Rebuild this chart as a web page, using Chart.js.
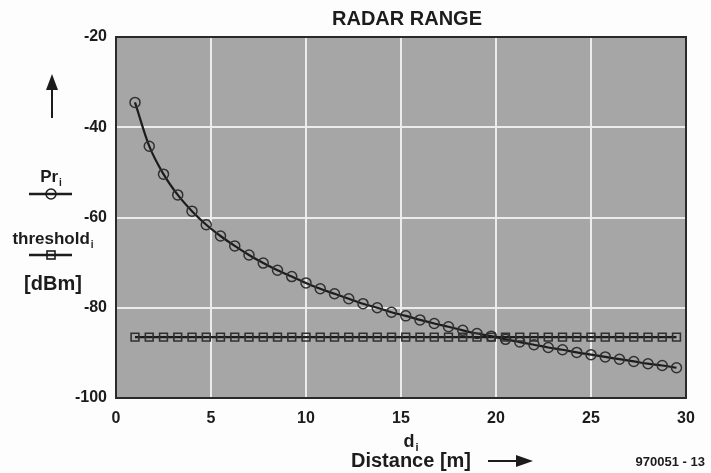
<!DOCTYPE html>
<html lang="en">
<head>
    <meta charset="UTF-8">
    <title>Radar Range</title>
    <script src="https://cdn.jsdelivr.net/npm/chart.js"></script>
    <style>
        html, body { margin: 0; padding: 0; background: #fdfdfd; }
        #chartContainer { width: 711px; height: 473px; }
    </style>
</head>
<body>
    <div id="chartContainer">
        <canvas id="radarChart" width="711" height="473"></canvas>
    </div>

    <script>
        // values
        const distance = [1, 1.75, 2.5, 3.25, 4, 4.75, 5.5, 6.25, 7, 7.75, 8.5, 9.25, 10,
            10.75, 11.5, 12.25, 13, 13.75, 14.5, 15.25, 16, 16.75, 17.5, 18.25, 19, 19.75,
            20.5, 21.25, 22, 22.75, 23.5, 24.25, 25, 25.75, 26.5, 27.25, 28, 28.75, 29.5];
        const prDbm = [-34.5, -44.2, -50.4, -55.0, -58.6, -61.6, -64.1, -66.3, -68.3, -70.1,
            -71.7, -73.1, -74.5, -75.8, -76.9, -78.0, -79.1, -80.0, -81.0, -81.8, -82.7,
            -83.5, -84.2, -85.0, -85.7, -86.3, -87.0, -87.6, -88.2, -88.8, -89.3, -89.9,
            -90.4, -90.9, -91.4, -91.9, -92.4, -92.8, -93.3];
        const thresholdDbm = [-86.5, -86.5, -86.5, -86.5, -86.5, -86.5, -86.5, -86.5, -86.5,
            -86.5, -86.5, -86.5, -86.5, -86.5, -86.5, -86.5, -86.5, -86.5, -86.5, -86.5,
            -86.5, -86.5, -86.5, -86.5, -86.5, -86.5, -86.5, -86.5, -86.5, -86.5, -86.5,
            -86.5, -86.5, -86.5, -86.5, -86.5, -86.5, -86.5, -86.5];
        const xTicks = [0, 5, 10, 15, 20, 25, 30];
        const yTicks = [-100, -80, -60, -40, -20];

        const FONT = '"Liberation Sans", Arial, sans-serif';
        const INK = '#1c1c1c';

        function toPoints(xs, ys) {
            return xs.map((x, i) => ({ x: x, y: ys[i] }));
        }

        // text with a small lowered "i"
        function subText(ctx, main, sub, cx, y, size) {
            ctx.font = 'bold ' + size + 'px ' + FONT;
            const w1 = ctx.measureText(main).width;
            ctx.font = 'bold ' + Math.round(size * 0.6) + 'px ' + FONT;
            const w2 = ctx.measureText(sub).width;
            const x0 = cx - (w1 + w2 + 1) / 2;
            ctx.textAlign = 'left';
            ctx.font = 'bold ' + size + 'px ' + FONT;
            ctx.fillText(main, x0, y);
            ctx.font = 'bold ' + Math.round(size * 0.6) + 'px ' + FONT;
            ctx.fillText(sub, x0 + w1 + 1, y + size * 0.22);
        }

        const decor = {
            id: 'decor',
            beforeDraw(chart) {
                const { ctx, chartArea: a } = chart;
                ctx.save();
                ctx.fillStyle = '#fdfdfd';
                ctx.fillRect(0, 0, chart.width, chart.height);
                ctx.fillStyle = '#a6a6a6';
                ctx.fillRect(a.left, a.top, a.right - a.left, a.bottom - a.top);
                ctx.restore();
            },
            afterDraw(chart) {
                const { ctx, chartArea: a } = chart;
                ctx.save();
                ctx.strokeStyle = '#2a2a2a';
                ctx.lineWidth = 2;
                ctx.strokeRect(a.left, a.top, a.right - a.left, a.bottom - a.top);

                ctx.fillStyle = INK;
                ctx.textBaseline = 'alphabetic';

                // title
                ctx.textAlign = 'center';
                ctx.font = 'bold 20px ' + FONT;
                ctx.fillText('RADAR RANGE', 407, 25);

                // up arrow
                ctx.strokeStyle = INK;
                ctx.lineWidth = 2;
                ctx.beginPath();
                ctx.moveTo(52, 118);
                ctx.lineTo(52, 88);
                ctx.stroke();
                ctx.beginPath();
                ctx.moveTo(52, 74);
                ctx.lineTo(46, 90);
                ctx.lineTo(58, 90);
                ctx.closePath();
                ctx.fill();

                // legend: Pr_i
                subText(ctx, 'Pr', 'i', 51, 182, 17);
                ctx.lineWidth = 2.5;
                ctx.beginPath();
                ctx.moveTo(29, 194);
                ctx.lineTo(72, 194);
                ctx.stroke();
                ctx.lineWidth = 1.5;
                ctx.beginPath();
                ctx.arc(51, 194, 5, 0, Math.PI * 2);
                ctx.stroke();

                // legend: threshold_i
                subText(ctx, 'threshold', 'i', 53, 244, 17);
                ctx.lineWidth = 2.5;
                ctx.beginPath();
                ctx.moveTo(29, 255);
                ctx.lineTo(72, 255);
                ctx.stroke();
                ctx.lineWidth = 1.6;
                ctx.strokeRect(47, 251, 8, 8);

                ctx.textAlign = 'center';
                ctx.font = 'bold 20px ' + FONT;
                ctx.fillText('[dBm]', 53, 290);

                // x axis titles
                subText(ctx, 'd', 'i', 411, 447, 18);
                ctx.textAlign = 'center';
                ctx.font = 'bold 20px ' + FONT;
                ctx.fillText('Distance [m]', 411, 467);

                // right arrow
                ctx.lineWidth = 2;
                ctx.beginPath();
                ctx.moveTo(488, 461);
                ctx.lineTo(518, 461);
                ctx.stroke();
                ctx.beginPath();
                ctx.moveTo(533, 461);
                ctx.lineTo(516, 455);
                ctx.lineTo(516, 467);
                ctx.closePath();
                ctx.fill();

                ctx.textAlign = 'right';
                ctx.font = 'bold 13px ' + FONT;
                ctx.fillText('970051 - 13', 705, 466);
                ctx.restore();
            }
        };

        const ctx = document.getElementById('radarChart').getContext('2d');
        new Chart(ctx, {
            type: 'line',
            data: {
                datasets: [
                    {
                        label: 'threshold',
                        data: toPoints(distance, thresholdDbm),
                        borderColor: INK,
                        borderWidth: 2.2,
                        pointStyle: 'rect',
                        pointRadius: 5.5,
                        pointBorderWidth: 1.6,
                        pointBorderColor: '#303030',
                        pointBackgroundColor: 'rgba(0,0,0,0)',
                        fill: false
                    },
                    {
                        label: 'Pr',
                        data: toPoints(distance, prDbm),
                        borderColor: INK,
                        borderWidth: 2.2,
                        cubicInterpolationMode: 'monotone',
                        pointStyle: 'circle',
                        pointRadius: 5,
                        pointBorderWidth: 1.5,
                        pointBorderColor: '#303030',
                        pointBackgroundColor: 'rgba(0,0,0,0)',
                        fill: false
                    }
                ]
            },
            options: {
                responsive: false,
                animation: false,
                maintainAspectRatio: false,
                layout: { padding: { top: 37, right: 25, left: 0, bottom: 0 } },
                plugins: {
                    legend: { display: false },
                    tooltip: { enabled: false },
                    title: { display: false }
                },
                scales: {
                    x: {
                        type: 'linear',
                        min: 0,
                        max: 30,
                        afterFit(scale) { scale.height = 75; },
                        afterBuildTicks(scale) { scale.ticks = xTicks.map(v => ({ value: v })); },
                        grid: { color: '#ececec', lineWidth: 2, drawTicks: false },
                        border: { display: false },
                        ticks: {
                            color: INK,
                            padding: 11,
                            font: { family: FONT, size: 16, weight: 'bold' }
                        }
                    },
                    y: {
                        type: 'linear',
                        min: -100,
                        max: -20,
                        afterFit(scale) { scale.width = 116; },
                        afterBuildTicks(scale) { scale.ticks = yTicks.map(v => ({ value: v })); },
                        grid: { color: '#ececec', lineWidth: 2, drawTicks: false },
                        border: { display: false },
                        ticks: {
                            color: INK,
                            padding: 9,
                            font: { family: FONT, size: 16, weight: 'bold' }
                        }
                    }
                }
            },
            plugins: [decor]
        });
    </script>
</body>
</html>
